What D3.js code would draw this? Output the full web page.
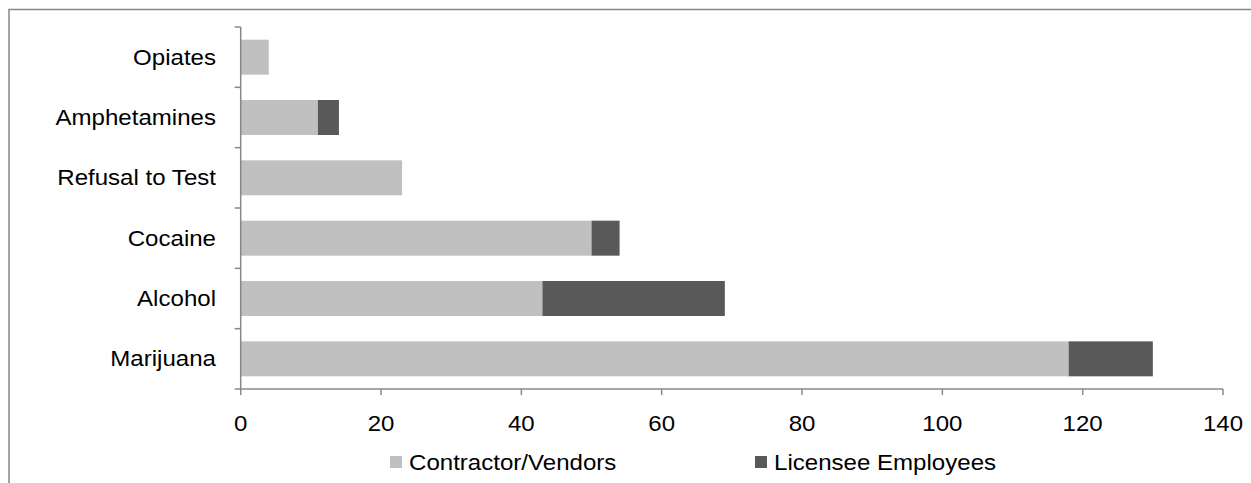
<!DOCTYPE html>
<html><head><meta charset="utf-8">
<script src="https://cdn.jsdelivr.net/npm/d3@7"></script>
<style>body{margin:0;background:#fff}svg{display:block;font-family:"Liberation Sans",Arial,sans-serif}</style>
</head><body><svg id="c" width="1251" height="483"></svg>
<script>
const categories = ["Opiates","Amphetamines","Refusal to Test","Cocaine","Alcohol","Marijuana"];
const contractors = [4,11,23,50,43,118];
const licensees = [0,3,0,4,26,12];
const seriesNames = ["Contractor/Vendors","Licensee Employees"];
const seriesColors = ["#c0c0c0","#595959"];
const xTicks = [0,20,40,60,80,100,120,140];

const FS = 21.5, SX = 1.12;
const svg = d3.select("#c");
svg.append("rect").attr("x",9).attr("y",9.5).attr("width",1300).attr("height",600)
  .attr("fill","none").attr("stroke","#888").attr("stroke-width",1.5);

function label(g, px, py, txt, anchor){
  g.append("g").attr("transform",`translate(${px},${py}) scale(${SX},1)`)
   .append("text").attr("dy","0.35em").attr("text-anchor",anchor)
   .attr("font-size",FS).attr("fill","#000").text(txt);
}

const x = d3.scaleLinear().domain([0,140]).range([240.7,1223]);
const y = d3.scaleBand().domain(categories).range([27,389]).paddingInner(0.42).paddingOuter(0.21);

const rows = categories.map((c,i)=>({cat:c, a:contractors[i], b:licensees[i]}));
const stack = d3.stack().keys(["a","b"])(rows);

stack.forEach((s,si)=>{
  svg.append("g").selectAll("rect").data(s).join("rect")
    .attr("x",d=>x(d[0])).attr("width",d=>x(d[1])-x(d[0]))
    .attr("y",d=>y(d.data.cat)).attr("height",y.bandwidth())
    .attr("fill",seriesColors[si]);
});

// y axis
const ax = "#888";
svg.append("line").attr("x1",x(0)).attr("x2",x(0)).attr("y1",27).attr("y2",389).attr("stroke",ax).attr("stroke-width",1.5);
const step = (389-27)/categories.length;
d3.range(categories.length+1).forEach(i=>{
  svg.append("line").attr("x1",x(0)-6).attr("x2",x(0)).attr("y1",27+i*step).attr("y2",27+i*step).attr("stroke",ax).attr("stroke-width",1.5);
});
const yl = svg.append("g");
categories.forEach(c=>label(yl, 216, y(c)+y.bandwidth()/2, c, "end"));

// x axis
svg.append("line").attr("x1",x(0)).attr("x2",x(140)).attr("y1",389).attr("y2",389).attr("stroke",ax).attr("stroke-width",1.5);
xTicks.forEach(t=>{
  svg.append("line").attr("x1",x(t)).attr("x2",x(t)).attr("y1",389).attr("y2",395).attr("stroke",ax).attr("stroke-width",1.5);
});
const xl = svg.append("g");
xTicks.forEach(t=>label(xl, x(t), 423, t, "middle"));

// legend
const legX = [390,755];
const lg = svg.append("g");
seriesNames.forEach((n,i)=>{
  lg.append("rect").attr("x",legX[i]).attr("y",456).attr("width",12).attr("height",12).attr("fill",seriesColors[i]);
  label(lg, legX[i]+19, 462, n, "start");
});
</script></body></html>
